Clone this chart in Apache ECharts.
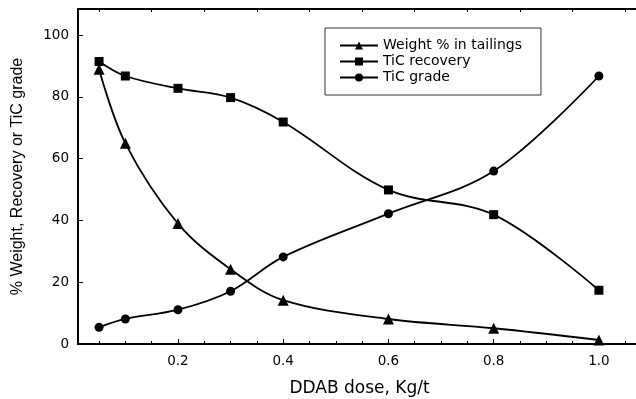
<!DOCTYPE html>
<html><head><meta charset="utf-8">
<script src="https://cdn.jsdelivr.net/npm/echarts@6/dist/echarts.min.js"></script>
<style>html,body{margin:0;padding:0;background:#fff}#c{width:636px;height:399px}</style>
</head><body><div id="c"></div>
<script>
const doses = [0.05, 0.1, 0.2, 0.3, 0.4, 0.6, 0.8, 1.0];
const weightTailings = [89, 65, 39, 24.2, 14.2, 8.1, 5.1, 1.3];
const ticRecovery = [91.5, 86.8, 82.8, 79.8, 71.9, 49.9, 41.9, 17.4];
const ticGrade = [5.4, 8.1, 11.1, 17.1, 28.2, 42.2, 56.0, 86.8];
const seriesNames = ['Weight % in tailings', 'TiC recovery', 'TiC grade'];
const xTitle = 'DDAB dose, Kg/t';
const yTitle = '% Weight, Recovery or TiC grade';
const xLabelValues = [0.2, 0.4, 0.6, 0.8, 1.0];
const xMinorTicks = [0.05, 0.1, 0.15, 0.2, 0.25, 0.3, 0.35, 0.4, 0.45, 0.5, 0.55, 0.6, 0.65, 0.7, 0.75, 0.8, 0.85, 0.9, 0.95, 1.0, 1.05];
const xTopTicks = [0.05, 0.15, 0.25, 0.35, 0.45, 0.55, 0.65, 0.75, 0.85, 0.95, 1.05];
const yLabelValues = [0, 20, 40, 60, 80, 100];

const font = 'DejaVu Sans';
const pair = (ys) => doses.map((x, i) => [x, ys[i]]);
const mk = (name, ys, symbol, size) => ({
  name, type: 'line', data: pair(ys), smooth: 0.35,
  symbol, symbolSize: size, showSymbol: true,
  lineStyle: {color: '#000', width: 1.8},
  itemStyle: {color: '#000'}, z: 3
});
const X0 = 0.01, X1 = 1.08;
const chart = echarts.init(document.getElementById('c'), null, {renderer: 'canvas'});
chart.setOption({
  animation: false,
  backgroundColor: '#fff',
  grid: {left: 78, top: 9, bottom: 55, right: -5, containLabel: false, outerBoundsMode: 'none'},
  legend: {
    orient: 'vertical', left: 325, top: 28,
    itemWidth: 38, itemHeight: 10, itemGap: 1,
    padding: [10, 19, 10, 14],
    borderColor: '#333', borderWidth: 1,
    textStyle: {fontFamily: font, fontSize: 14, color: '#000', lineHeight: 15},
    data: seriesNames
  },
  xAxis: [{
    type: 'value', min: X0, max: X1,
    name: xTitle, nameLocation: 'middle', nameGap: 36,
    nameTextStyle: {fontFamily: font, fontSize: 17, color: '#000'},
    axisLine: {lineStyle: {color: '#000', width: 2}},
    axisTick: {inside: true, length: 3, customValues: xMinorTicks, lineStyle: {color: '#000', width: 1}},
    axisLabel: {customValues: xLabelValues, formatter: v => v.toFixed(1), fontFamily: font, fontSize: 13.5, color: '#000', margin: 10},
    splitLine: {show: false}
  }, {
    type: 'value', position: 'bottom', min: X0, max: X1,
    axisLine: {show: false},
    axisTick: {inside: true, length: 5, customValues: xLabelValues, lineStyle: {color: '#000', width: 1}},
    axisLabel: {show: false}, splitLine: {show: false}
  }, {
    type: 'value', position: 'top', min: X0, max: X1,
    axisLine: {show: true, lineStyle: {color: '#000', width: 2}},
    axisTick: {inside: true, length: 3, customValues: xTopTicks, lineStyle: {color: '#000', width: 1}},
    axisLabel: {show: false}, splitLine: {show: false}
  }],
  yAxis: {
    type: 'value', min: 0, max: 108.5,
    name: yTitle, nameLocation: 'middle', nameGap: 52,
    nameTextStyle: {fontFamily: 'Liberation Sans', fontSize: 16, color: '#000'},
    axisLine: {lineStyle: {color: '#000', width: 2}},
    axisTick: {inside: true, length: 5, customValues: yLabelValues, lineStyle: {color: '#000', width: 1}},
    axisLabel: {customValues: yLabelValues, fontFamily: font, fontSize: 13.5, color: '#000', margin: 9},
    splitLine: {show: false}
  },
  series: [
    mk(seriesNames[0], weightTailings, 'triangle', 11),
    mk(seriesNames[1], ticRecovery, 'rect', 9),
    mk(seriesNames[2], ticGrade, 'circle', 9)
  ]
});
</script></body></html>
